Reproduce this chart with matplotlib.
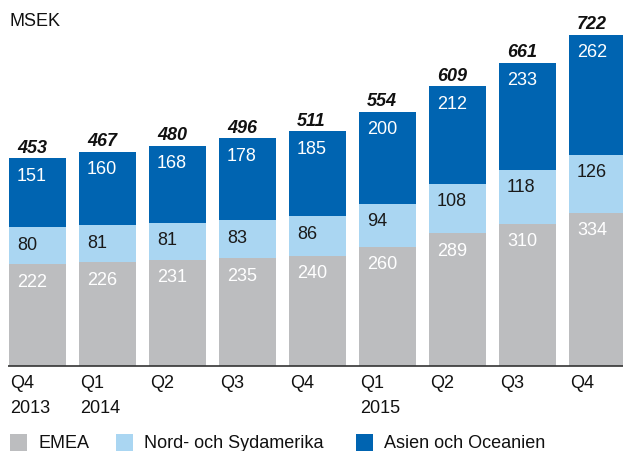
import matplotlib
matplotlib.use("Agg")
import matplotlib.pyplot as plt
from matplotlib.patches import Rectangle
from matplotlib.transforms import blended_transform_factory, offset_copy

quarters = ["Q4", "Q1", "Q2", "Q3", "Q4", "Q1", "Q2", "Q3", "Q4"]
years = ["2013", "2014", "", "", "", "2015", "", "", ""]
emea = [222, 226, 231, 235, 240, 260, 289, 310, 334]
amerika = [80, 81, 81, 83, 86, 94, 108, 118, 126]
asien = [151, 160, 168, 178, 185, 200, 212, 233, 262]
series_names = ["EMEA", "Nord- och Sydamerika", "Asien och Oceanien"]

c_grey = "#bcbdbf"
c_light = "#aad6f2"
c_dark = "#0064b1"

plt.rcParams['font.family'] = ['Liberation Sans', 'DejaVu Sans']

W, H = 623, 452
fig = plt.figure(figsize=(W / 100, H / 100), dpi=100)
base_px = 367
ax = fig.add_axes([0, (H - base_px) / H, 1, base_px / H])
ax.set_axis_off()

spacing = 70.0
width = 57 / spacing
x0 = (37.5) / spacing
ax.set_xlim(-x0, (W - 37.5) / spacing)
ax.set_ylim(0, base_px / 0.459)

xs = list(range(len(emea)))
bottoms2 = emea
bottoms3 = [a + b for a, b in zip(emea, amerika)]
totals = [a + b + c for a, b, c in zip(emea, amerika, asien)]

ax.bar(xs, emea, width=width, color=c_grey, linewidth=0)
ax.bar(xs, amerika, width=width, bottom=bottoms2, color=c_light, linewidth=0)
ax.bar(xs, asien, width=width, bottom=bottoms3, color=c_dark, linewidth=0)

fs = 13
pt = 72 / 100.0  # points per pixel
lab_off = offset_copy(ax.transData, fig=fig, x=8 * pt, y=-17 * pt, units='points')
tot_off = offset_copy(ax.transData, fig=fig, x=8 * pt, y=11 * pt, units='points')
for i in xs:
    left = i - width / 2
    ax.text(left, emea[i], str(emea[i]), transform=lab_off, color="white",
            fontsize=fs, ha="left", va="center")
    ax.text(left, bottoms3[i], str(amerika[i]), transform=lab_off, color="#1a1a1a",
            fontsize=fs, ha="left", va="center")
    ax.text(left, totals[i], str(asien[i]), transform=lab_off, color="white",
            fontsize=fs, ha="left", va="center")
    ax.text(left, totals[i], str(totals[i]), transform=tot_off, color="#111111",
            fontsize=fs, ha="left", va="center", fontweight="bold", fontstyle="italic")

# baseline
ax.plot([-width / 2 - 0.01, ax.get_xlim()[1]], [0, 0], color="#333333", lw=1.2,
        clip_on=False, solid_capstyle="butt")

# category labels
trans = blended_transform_factory(ax.transData, fig.transFigure)
for i in xs:
    left = i - width / 2 + 1 / spacing
    ax.text(left, 1 - 384 / H, quarters[i], transform=trans, fontsize=fs,
            ha="left", va="center", color="#111111")
    if years[i]:
        ax.text(left, 1 - 409 / H, years[i], transform=trans, fontsize=fs,
                ha="left", va="center", color="#111111")

# title
fig.text(10 / W, 1 - 22 / H, "MSEK", fontsize=fs, ha="left", va="center", color="#111111")

# legend
leg = [(10, c_grey), (116, c_light), (356, c_dark)]
for (lx, col), name in zip(leg, series_names):
    fig.patches.append(Rectangle((lx / W, 0), 17 / W, 17 / H, transform=fig.transFigure,
                                 facecolor=col, edgecolor="none"))
    fig.text((lx + 28) / W, 1 - 444 / H, name, fontsize=fs, ha="left", va="center",
             color="#111111")

fig.savefig("out.png", dpi=100)
